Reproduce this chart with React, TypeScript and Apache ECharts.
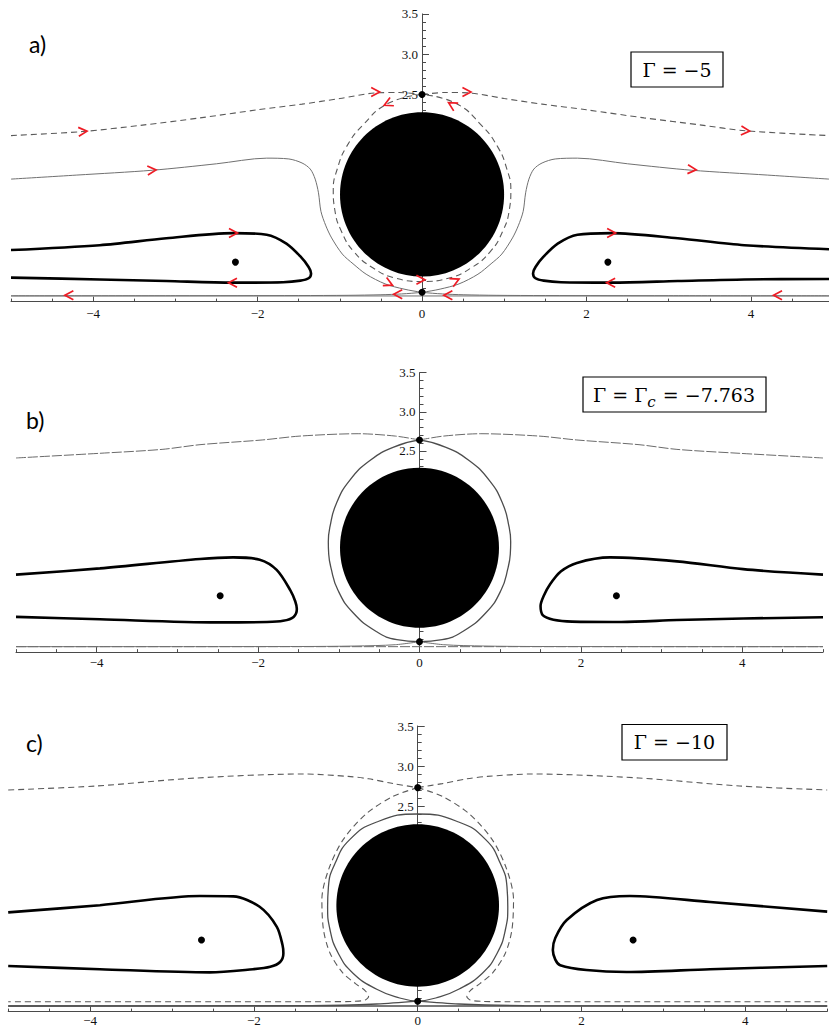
import React, { useEffect, useRef } from "react";
import * as echarts from "echarts";

type P = [number, number];

// ---------------- axis ticks & labels ----------------
const xLabelValues = [-4, -2, 0, 2, 4];
const xMajorTickValues = [-4, -2, 0, 2, 4];
const xMinorTickValues = [-5, -4.5, -3.5, -3, -2.5, -1.5, -1, -0.5, 0.5, 1, 1.5, 2.5, 3, 3.5, 4.5, 5];
const yLabelValues = [2.5, 3.0, 3.5];
const yMajorTickValues = [0.5, 1, 1.5, 2, 2.5, 3, 3.5];
const yMinorTickValues = [
  0.1, 0.2, 0.3, 0.4, 0.6, 0.7, 0.8, 0.9, 1.1, 1.2, 1.3, 1.4, 1.6, 1.7, 1.8, 1.9,
  2.1, 2.2, 2.3, 2.4, 2.6, 2.7, 2.8, 2.9, 3.1, 3.2, 3.3, 3.4,
];

const panelTags = ["a)", "b)", "c)"];

// ---------------- panel a : Γ = −5 ----------------
const aUpperLeft: P[] = [[-5, 1.99], [-4.13, 2.04], [-3.4, 2.12], [-2.7, 2.21], [-2.0, 2.31], [-1.46, 2.38], [-1.0, 2.45], [-0.56, 2.52], [-0.28, 2.525], [0, 2.5]];
const aUpperRight: P[] = [[0, 2.5], [0.28, 2.525], [0.56, 2.52], [1.0, 2.45], [1.46, 2.38], [2.0, 2.31], [2.7, 2.21], [3.4, 2.12], [3.93, 2.05], [4.95, 1.99]];
const aLoop: P[] = [[0, 2.5], [-0.41, 2.39], [-0.72, 2.12], [-0.92, 1.85], [-1.03, 1.58], [-1.08, 1.32], [-1.06, 1.06], [-0.98, 0.8], [-0.83, 0.55], [-0.6, 0.35], [-0.32, 0.22], [0, 0.18], [0.32, 0.22], [0.6, 0.35], [0.83, 0.55], [0.98, 0.8], [1.06, 1.06], [1.08, 1.32], [1.03, 1.58], [0.92, 1.85], [0.72, 2.12], [0.41, 2.39], [0, 2.5]];
const aThinLeft: P[] = [[-5, 1.45], [-4.2, 1.5], [-3.28, 1.56], [-2.5, 1.64], [-1.89, 1.71], [-1.62, 1.7], [-1.46, 1.65], [-1.36, 1.575], [-1.3, 1.45], [-1.26, 1.28], [-1.23, 1.05], [-1.17, 0.87], [-1.1, 0.72], [-0.97, 0.52], [-0.84, 0.4], [-0.68, 0.27], [-0.45, 0.15], [-0.22, 0.085], [0, 0.046], [0.25, 0.025], [0.5, 0.015], [0.9, 0.008], [1.5, 0.005], [3, 0.003], [4.95, 0.002]];
const aThinRight: P[] = [[4.95, 1.45], [4.2, 1.5], [3.28, 1.56], [2.5, 1.64], [1.89, 1.71], [1.62, 1.7], [1.46, 1.65], [1.36, 1.575], [1.3, 1.45], [1.26, 1.28], [1.23, 1.05], [1.17, 0.87], [1.1, 0.72], [0.97, 0.52], [0.84, 0.4], [0.68, 0.27], [0.45, 0.15], [0.22, 0.085], [0, 0.046], [-0.25, 0.025], [-0.5, 0.015], [-0.9, 0.008], [-1.5, 0.005], [-3, 0.003], [-5, 0.002]];
const aThickLeft: P[] = [[-5, 0.57], [-3.92, 0.63], [-3.11, 0.716], [-2.3, 0.78], [-1.89, 0.76], [-1.65, 0.65], [-1.48, 0.49], [-1.38, 0.36], [-1.35, 0.28], [-1.38, 0.22], [-1.48, 0.19], [-1.69, 0.17], [-2.3, 0.165], [-3.11, 0.185], [-3.92, 0.205], [-5, 0.227]];
const aThickRight: P[] = [[4.95, 0.58], [3.92, 0.63], [3.11, 0.716], [2.3, 0.78], [1.89, 0.76], [1.65, 0.65], [1.48, 0.49], [1.38, 0.36], [1.35, 0.28], [1.38, 0.22], [1.48, 0.19], [1.69, 0.17], [2.3, 0.165], [3.11, 0.185], [3.92, 0.205], [4.95, 0.21]];
const aWall: P[] = [[-5, 0], [4.95, 0]];
const aDots: P[] = [[0, 2.5], [0, 0.046], [-2.27, 0.42], [2.26, 0.42]];
const aDisk = [0, 1.26, 0.998, 1.02];
// [x, y, direction in degrees]
const aArrows: number[][] = [
  [-4.13, 2.04, 4], [-0.57, 2.53, 0], [0.54, 2.53, 0], [3.93, 2.05, -4],
  [-0.41, 2.39, 205], [0.37, 2.37, 150],
  [-3.29, 1.56, 4], [3.28, 1.57, -4],
  [-2.3, 0.78, 0], [-2.3, 0.165, 180], [2.3, 0.78, 0], [2.3, 0.165, 180],
  [-4.29, 0.01, 180], [4.33, 0.01, 180],
  [-0.41, 0.158, -25], [-0.02, 0.2, 0], [0.4, 0.186, 25],
  [-0.29, 0.02, 180], [0.32, 0.01, 180],
];

// ---------------- panel b : Γ = Γc = −7.763 ----------------
const bUpperLeft: P[] = [[-5, 2.41], [-3.96, 2.47], [-3.19, 2.52], [-2.72, 2.58], [-1.95, 2.64], [-1.48, 2.69], [-0.76, 2.72], [-0.3, 2.69], [0, 2.64]];
const bUpperRight: P[] = [[0, 2.64], [0.3, 2.69], [0.76, 2.72], [1.48, 2.69], [1.95, 2.64], [2.72, 2.58], [3.19, 2.52], [3.96, 2.47], [5, 2.41]];
const bLensLeft: P[] = [[0, 2.64], [-0.32, 2.55], [-0.61, 2.38], [-0.86, 2.13], [-1.03, 1.83], [-1.11, 1.53], [-1.13, 1.34], [-1.125, 1.18], [-1.1, 1.02], [-1.01, 0.72], [-0.82, 0.43], [-0.53, 0.19], [-0.28, 0.09], [0, 0.064]];
const bLensRight: P[] = [[0, 2.64], [0.32, 2.55], [0.61, 2.38], [0.86, 2.13], [1.03, 1.83], [1.11, 1.53], [1.13, 1.34], [1.125, 1.18], [1.1, 1.02], [1.01, 0.72], [0.82, 0.43], [0.53, 0.19], [0.28, 0.09], [0, 0.064]];
const bWallLeft: P[] = [[0, 0.064], [-0.3, 0.025], [-0.8, 0.008], [-1.5, 0.002], [-5, 0]];
const bWallRight: P[] = [[0, 0.064], [0.3, 0.025], [0.8, 0.008], [1.5, 0.002], [5, 0]];
const bThickLeft: P[] = [[-5, 0.92], [-3.96, 1.0], [-2.72, 1.12], [-2.31, 1.14], [-1.98, 1.11], [-1.77, 0.98], [-1.6, 0.72], [-1.54, 0.58], [-1.52, 0.48], [-1.56, 0.38], [-1.69, 0.33], [-1.89, 0.315], [-2.51, 0.31], [-3.96, 0.35], [-5, 0.38]];
const bThickRight: P[] = [[5, 0.92], [4.01, 0.99], [3.19, 1.09], [2.36, 1.14], [1.95, 1.07], [1.75, 0.96], [1.62, 0.8], [1.54, 0.65], [1.5, 0.52], [1.53, 0.4], [1.66, 0.345], [1.89, 0.32], [2.5, 0.315], [3.19, 0.34], [4.01, 0.36], [5, 0.375]];
const bWall: P[] = [[-5, 0], [5, 0]];
const bDots: P[] = [[0, 2.64], [0, 0.064], [-2.47, 0.65], [2.44, 0.65]];
const bDisk = [0, 1.264, 0.985, 1.022];

// ---------------- panel c : Γ = −10 ----------------
const cUpperLeft: P[] = [[-5, 2.7], [-3.93, 2.75], [-2.7, 2.85], [-1.4, 2.9], [-0.85, 2.87], [-0.6, 2.84], [-0.3, 2.78], [0, 2.73]];
const cUpperRight: P[] = [[0, 2.73], [0.3, 2.78], [0.6, 2.84], [0.85, 2.87], [1.4, 2.9], [2.7, 2.85], [3.93, 2.75], [5, 2.7]];
const cLoopLeft: P[] = [[0, 2.73], [-0.3, 2.62], [-0.62, 2.41], [-0.91, 2.08], [-1.09, 1.7], [-1.17, 1.33], [-1.15, 0.95], [-1.07, 0.66], [-0.92, 0.42], [-0.76, 0.28], [-0.64, 0.19], [-0.6, 0.12], [-0.64, 0.075], [-0.78, 0.058], [-1.1, 0.054], [-2.5, 0.054], [-5, 0.054]];
const cLoopRight: P[] = [[0, 2.73], [0.3, 2.62], [0.62, 2.41], [0.91, 2.08], [1.09, 1.7], [1.17, 1.33], [1.15, 0.95], [1.07, 0.66], [0.92, 0.42], [0.76, 0.28], [0.64, 0.19], [0.6, 0.12], [0.64, 0.075], [0.78, 0.058], [1.1, 0.054], [2.5, 0.054], [5, 0.054]];
const cCircle: P[] = [[0, 0.06], [-0.22, 0.1], [-0.5, 0.21], [-0.79, 0.41], [-0.97, 0.66], [-1.07, 0.95], [-1.1, 1.24], [-1.09, 1.49], [-1.01, 1.78], [-0.83, 2.08], [-0.5, 2.3], [0, 2.4], [0.5, 2.3], [0.83, 2.08], [1.01, 1.78], [1.09, 1.49], [1.1, 1.24], [1.07, 0.95], [0.97, 0.66], [0.79, 0.41], [0.5, 0.21], [0.22, 0.1], [0, 0.06]];
const cWallLeft: P[] = [[0, 0.06], [-0.5, 0.025], [-1.3, 0.005], [-5, 0]];
const cWallRight: P[] = [[0, 0.06], [0.5, 0.025], [1.3, 0.005], [5, 0]];
const cThickLeft: P[] = [[-5, 1.17], [-3.88, 1.26], [-2.66, 1.375], [-2.25, 1.37], [-1.93, 1.24], [-1.72, 0.99], [-1.65, 0.76], [-1.64, 0.66], [-1.68, 0.55], [-1.8, 0.49], [-2.01, 0.46], [-2.54, 0.42], [-3.88, 0.46], [-5, 0.5]];
const cThickRight: P[] = [[5, 1.18], [3.57, 1.3], [2.59, 1.375], [2.19, 1.325], [1.82, 1.075], [1.68, 0.85], [1.65, 0.7], [1.68, 0.58], [1.74, 0.51], [2.06, 0.45], [2.55, 0.425], [3.57, 0.46], [5, 0.5]];
const cWall: P[] = [[-5, 0], [5, 0]];
const cDots: P[] = [[0, 2.73], [0, 0.06], [-2.64, 0.825], [2.63, 0.825]];
const cDisk = [0, 1.256, 0.993, 1.015];

// ---------------- styling ----------------
const serif = '"Liberation Serif", "Times New Roman", serif';
const mathFont = '"DejaVu Serif", serif';
const axisColor = "#4a4a4a";

const fmtX = (v: number) => (v < 0 ? "\u2212" + Math.abs(v) : String(v));

const thick = { color: "#000", width: 2.6 };
const thin = { color: "#707070", width: 1 };
const dashed = { color: "#5a5a5a", width: 1.1, type: [6, 4] };
const fineDash = { color: "#6a6a6a", width: 1, type: [10, 2] };
const darkThin = { color: "#4d4d4d", width: 1.3 };

function line(p: number, data: P[], style: any, smooth: number = 0.3) {
  return {
    type: "line",
    xAxisIndex: 2 * p,
    yAxisIndex: 2 * p,
    data,
    symbol: "none",
    showSymbol: false,
    smooth,
    lineStyle: style,
    z: 2,
    silent: true,
  };
}

function disk(p: number, d: number[]) {
  return {
    type: "custom",
    coordinateSystem: "cartesian2d",
    xAxisIndex: 2 * p,
    yAxisIndex: 2 * p,
    data: [d],
    z: 3,
    silent: true,
    renderItem: (_params: any, api: any) => {
      const c = api.coord([api.value(0), api.value(1)]);
      const s = api.size([api.value(2), api.value(3)]);
      return {
        type: "ellipse",
        shape: { cx: c[0], cy: c[1], rx: s[0], ry: s[1] },
        style: { fill: "#000" },
      };
    },
  };
}

function dots(p: number, data: P[]) {
  return {
    type: "scatter",
    xAxisIndex: 2 * p,
    yAxisIndex: 2 * p,
    data,
    symbolSize: 7,
    itemStyle: { color: "#000", opacity: 1 },
    z: 5,
    silent: true,
  };
}

function arrows(p: number, data: number[][]) {
  return {
    type: "custom",
    coordinateSystem: "cartesian2d",
    xAxisIndex: 2 * p,
    yAxisIndex: 2 * p,
    data,
    z: 6,
    silent: true,
    renderItem: (_params: any, api: any) => {
      const c = api.coord([api.value(0), api.value(1)]);
      const a = (Number(api.value(2)) * Math.PI) / 180;
      const cs = Math.cos(a);
      const sn = Math.sin(a);
      const pt = (u: number, v: number) => [c[0] + u * cs + v * sn, c[1] - u * sn + v * cs];
      return {
        type: "polyline",
        shape: { points: [pt(-4, -4.5), pt(4.5, 0), pt(-4, 4.5)] },
        style: { stroke: "#ee1c25", lineWidth: 1.7, fill: null },
      };
    },
  };
}

function xAxes(p: number, max: number, labelMargin: number) {
  return [
    {
      gridIndex: p,
      type: "value",
      min: -5,
      max,
      position: "bottom",
      axisLine: { show: true, onZero: false, lineStyle: { color: axisColor, width: 1 } },
      axisTick: { show: true, inside: true, length: 5, customValues: xMajorTickValues, lineStyle: { color: axisColor } },
      axisLabel: {
        show: true,
        customValues: xLabelValues,
        formatter: fmtX,
        margin: labelMargin,
        color: "#111",
        fontFamily: serif,
        fontSize: 13,
      },
      splitLine: { show: false },
    },
    {
      gridIndex: p,
      type: "value",
      min: -5,
      max,
      position: "bottom",
      axisLine: { show: false, onZero: false },
      axisTick: { show: true, inside: true, length: 3, customValues: xMinorTickValues, lineStyle: { color: axisColor } },
      axisLabel: { show: false },
      splitLine: { show: false },
    },
  ];
}

// shift: distance in px from the grid's left edge to x = 0 (negative offset moves the axis right)
function yAxes(p: number, shift: number) {
  return [
    {
      gridIndex: p,
      type: "value",
      min: -0.07,
      max: 3.5,
      position: "left",
      offset: -shift,
      axisLine: { show: true, onZero: false, lineStyle: { color: axisColor, width: 1 } },
      axisTick: { show: true, inside: true, length: 7, customValues: yMajorTickValues, lineStyle: { color: axisColor } },
      axisLabel: {
        show: true,
        customValues: yLabelValues,
        formatter: (v: number) => v.toFixed(1),
        margin: 4,
        color: "#111",
        fontFamily: serif,
        fontSize: 13,
      },
      splitLine: { show: false },
    },
    {
      gridIndex: p,
      type: "value",
      min: -0.07,
      max: 3.5,
      position: "left",
      offset: -shift,
      axisLine: { show: false, onZero: false },
      axisTick: { show: true, inside: true, length: 4, customValues: yMinorTickValues, lineStyle: { color: axisColor } },
      axisLabel: { show: false },
      splitLine: { show: false },
    },
  ];
}

function box(x: number, y: number, w: number, h: number) {
  return {
    type: "rect",
    shape: { x, y, width: w, height: h },
    style: { fill: "#fff", stroke: "#000", lineWidth: 1.2 },
    z: 20,
  };
}

function tag(text: string, x: number, y: number) {
  return {
    type: "text",
    x,
    y,
    z: 20,
    style: {
      text,
      font: '23px Lato, "Open Sans", sans-serif',
      fill: "#000",
      textAlign: "left",
      textVerticalAlign: "middle",
      align: "left",
      verticalAlign: "middle",
    },
  };
}

export default function App() {
  const ref = useRef<HTMLDivElement>(null);

  useEffect(() => {
    document.body.style.margin = "0";
    if (!ref.current) return;
    const chart = echarts.init(ref.current, null, { renderer: "svg", width: 829, height: 1029 });

    const option: any = {
      animation: false,
      backgroundColor: "#fff",
      grid: [
        { left: 11, top: 13.9, width: 818, height: 287.7, containLabel: false, outerBoundsMode: "none" },
        { left: 16, top: 372.65, width: 807, height: 279.5, containLabel: false, outerBoundsMode: "none" },
        { left: 8.2, top: 726, width: 819, height: 285.6, containLabel: false, outerBoundsMode: "none" },
      ],
      xAxis: [...xAxes(0, 4.95, 5), ...xAxes(1, 5, 4), ...xAxes(2, 5, 2)],
      yAxis: [...yAxes(0, 411), ...yAxes(1, 403.5), ...yAxes(2, 409.5)],
      series: [
        // panel a
        line(0, aWall, thin, 0),
        line(0, aUpperLeft, dashed),
        line(0, aUpperRight, dashed),
        line(0, aLoop, dashed, 0.5),
        line(0, aThinLeft, thin),
        line(0, aThinRight, thin),
        line(0, aThickLeft, thick),
        line(0, aThickRight, thick),
        disk(0, aDisk),
        dots(0, aDots),
        arrows(0, aArrows),
        // panel b
        line(1, bWall, fineDash, 0),
        line(1, bUpperLeft, fineDash),
        line(1, bUpperRight, fineDash),
        line(1, bLensLeft, darkThin, 0.5),
        line(1, bLensRight, darkThin, 0.5),
        line(1, bWallLeft, thin),
        line(1, bWallRight, thin),
        line(1, bThickLeft, thick),
        line(1, bThickRight, thick),
        disk(1, bDisk),
        dots(1, bDots),
        // panel c
        line(2, cWall, darkThin, 0),
        line(2, cUpperLeft, dashed),
        line(2, cUpperRight, dashed),
        line(2, cLoopLeft, dashed),
        line(2, cLoopRight, dashed),
        line(2, cCircle, darkThin, 0.5),
        line(2, cWallLeft, darkThin),
        line(2, cWallRight, darkThin),
        line(2, cThickLeft, thick),
        line(2, cThickRight, thick),
        disk(2, cDisk),
        dots(2, cDots),
      ],
      graphic: [
        tag(panelTags[0], 29, 44),
        tag(panelTags[1], 26, 420),
        tag(panelTags[2], 26, 743),
        box(631, 52, 92, 35),
        {
          type: "text",
          x: 677,
          y: 70,
          z: 21,
          style: { text: "Γ = −5", font: "19px " + mathFont, fill: "#000", textAlign: "center", textVerticalAlign: "middle", align: "center", verticalAlign: "middle" },
        },
        box(583, 377, 183, 35),
        {
          type: "text",
          x: 674,
          y: 395,
          z: 21,
          style: {
            text: "{n|Γ = Γ}{s|c}{n| = −7.763}",
            fill: "#000",
            textAlign: "center",
            textVerticalAlign: "middle",
            align: "center",
            verticalAlign: "middle",
            rich: {
              n: { font: "19px " + mathFont, fill: "#000" },
              s: { font: "italic 15px " + mathFont, fill: "#000", padding: [14, 1, 0, 0] },
            },
          },
        },
        box(622, 724.5, 105, 35.5),
        {
          type: "text",
          x: 674.5,
          y: 742,
          z: 21,
          style: { text: "Γ = −10", font: "19px " + mathFont, fill: "#000", textAlign: "center", textVerticalAlign: "middle", align: "center", verticalAlign: "middle" },
        },
      ],
    };

    chart.setOption(option);
    return () => chart.dispose();
  }, []);

  return <div ref={ref} style={{ width: 829, height: 1029, background: "#fff" }} />;
}
